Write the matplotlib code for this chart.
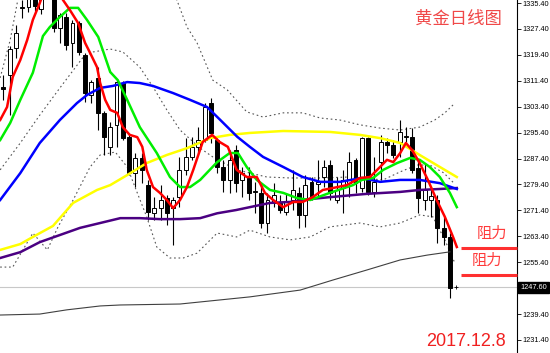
import matplotlib
matplotlib.use("Agg")
import matplotlib.pyplot as plt
import matplotlib.transforms as mtransforms

# ---------------- data ----------------
opens  = [1309.5,1313.2,1321.5,1334.0,1334.2,1340.0,1333.5,1346.0,1345.0,1327.7,
          1331.1,1323.1,1329.2,1319.4,1307.0,1312.3,1301.4,1290.9,1297.7,1310.7,
          1294.0,1282.9,1287.6,1279.2,1270.6,1272.1,1275.2,1272.1,1275.5,1283.8,
          1287.9,1290.9,1293.1,1304.5,1293.1,1284.8,1280.8,1290.0,1280.8,1281.4,
          1277.1,1276.8,1267.5,1273.7,1273.7,1270.9,1274.6,1276.8,1269.9,1280.2,
          1279.5,1281.7,1285.4,1274.6,1278.3,1279.8,1286.9,1278.3,1293.7,1277.1,
          1286.3,1292.5,1291.6,1292.5,1294.0,1294.0,1284.5,1274.6,1274.6,1274.6,
          1265.9,1263.2]
highs  = [1313.2,1322.1,1328.6,1336.3,1340.0,1342.0,1350.0,1357.0,1350.0,1332.3,
          1332.3,1330.2,1330.0,1320.0,1311.6,1315.6,1302.0,1298.7,1311.6,1311.3,
          1295.3,1289.1,1289.1,1280.8,1275.5,1279.2,1276.1,1275.5,1287.9,1293.7,
          1294.0,1297.1,1304.5,1306.1,1293.7,1286.9,1290.0,1291.6,1284.8,1284.8,
          1280.2,1279.8,1276.8,1279.8,1276.1,1276.8,1283.8,1278.6,1282.3,1281.7,
          1286.9,1286.9,1286.9,1281.7,1283.8,1289.4,1287.6,1294.0,1294.0,1287.9,
          1294.7,1293.7,1293.1,1299.3,1297.1,1296.8,1286.9,1286.0,1278.6,1276.1,
          1269.3,1264.4]
lows   = [1305.5,1300.8,1318.4,1330.8,1332.5,1333.0,1332.0,1338.0,1326.5,1323.1,
          1321.0,1315.6,1319.5,1304.8,1304.5,1296.2,1288.5,1288.5,1290.9,1293.1,
          1282.3,1278.6,1279.8,1268.4,1268.4,1268.4,1266.9,1260.7,1272.4,1282.3,
          1286.9,1289.1,1292.5,1292.2,1282.9,1277.1,1276.8,1277.1,1275.5,1274.6,
          1270.6,1265.9,1264.4,1272.4,1270.6,1269.9,1271.5,1265.9,1266.3,1274.6,
          1275.5,1278.6,1274.6,1273.7,1270.6,1275.5,1276.8,1277.1,1276.1,1275.5,
          1280.8,1289.1,1287.6,1287.9,1292.5,1282.9,1270.6,1271.5,1269.3,1261.3,
          1260.7,1244.4]
closes = [1309.0,1321.2,1326.1,1334.2,1338.0,1334.5,1345.0,1350.0,1327.7,1331.7,
          1322.4,1329.2,1320.3,1307.6,1311.0,1301.4,1294.0,1297.1,1311.0,1293.7,
          1282.9,1287.6,1283.8,1270.9,1272.1,1274.6,1270.6,1274.6,1283.8,1287.9,
          1290.9,1293.1,1303.3,1295.3,1284.8,1280.8,1286.9,1279.8,1282.9,1276.8,
          1277.4,1267.5,1274.6,1276.1,1271.5,1274.0,1277.7,1269.9,1279.2,1275.5,
          1280.2,1284.8,1276.8,1277.7,1280.8,1286.3,1279.8,1293.7,1277.1,1280.2,
          1292.5,1291.6,1288.5,1295.6,1294.2,1283.8,1275.2,1277.7,1275.8,1265.9,
          1263.2,1247.4]

# indicator lines: (bar index, price)
red_x   = [-0.5,0.6,1.5,2.7,3.8,4.7,5.8,6.8,8.2,9.5,10.6,11.9,13.0,13.8,14.9,15.4,16.2,17.0,
           18.1,19.0,20.1,21.3,22.1,22.8,23.8,24.9,26.0,27.0,28.1,29.2,30.2,31.7,33.2,34.4,
           35.7,37.1,38.7,40.3,41.6,42.9,44.5,46.1,47.6,49.2,50.8,52.4,54.6,56.7,58.3,59.9,
           61.0,62.0,63.1,64.0,65.0,66.2,67.5,68.9,70.2,71.5,72.1]
red_y   = [1299.3,1303.3,1312.6,1317.8,1324.0,1330.2,1335.4,1341.0,1341.0,1336.3,1333.2,1329.2,
           1323.1,1320.0,1315.6,1310.7,1305.5,1302.4,1301.5,1297.1,1294.7,1294.0,1291.0,1283.9,
           1278.6,1276.8,1274.6,1272.1,1274.6,1278.6,1283.9,1292.5,1294.7,1292.5,1291.0,1283.9,
           1281.7,1281.7,1276.8,1274.6,1272.4,1274.0,1274.0,1275.5,1277.7,1278.3,1279.2,1281.4,
           1281.7,1284.8,1287.0,1286.3,1289.1,1292.2,1290.0,1286.0,1280.8,1274.6,1269.4,1263.2,
           1260.1]
green_x = [-0.5,1.1,2.7,4.7,6.3,7.4,9.0,10.6,11.9,13.3,15.1,17.0,18.2,19.7,21.7,24.4,26.5,
           28.1,29.7,31.3,34.0,36.0,37.3,38.7,40.3,42.4,44.5,46.7,48.8,51.9,55.6,57.0,58.8,
           60.4,62.6,64.7,66.2,67.8,69.4,71.0,72.1]
green_y = [1293.1,1298.4,1305.5,1313.9,1325.2,1328.0,1331.1,1333.9,1333.9,1330.2,1324.9,1314.1,
           1311.6,1305.5,1297.1,1289.1,1281.7,1278.6,1278.6,1280.8,1286.3,1289.1,1289.1,1284.8,
           1280.8,1277.7,1276.8,1275.2,1274.6,1276.8,1279.2,1280.8,1281.4,1283.9,1286.0,1287.6,
           1287.0,1284.8,1281.7,1276.8,1272.4]
blue_x  = [-0.5,2.7,5.8,9.0,11.7,13.3,15.4,17.4,19.7,21.7,23.8,27.0,29.7,32.4,34.5,37.2,39.2,
           41.3,44.5,47.6,50.4,53.5,57.0,59.9,63.1,66.2,69.4,72.1]
blue_y  = [1274.6,1282.9,1292.2,1299.3,1304.5,1307.0,1309.2,1309.8,1311.0,1310.7,1309.8,1307.6,
           1305.5,1303.3,1299.3,1294.1,1291.0,1287.9,1284.8,1281.7,1280.2,1280.2,1281.4,1280.2,
           1280.8,1280.8,1279.8,1278.0]
yellow_x = [-0.5,2.7,4.7,7.9,11.1,14.9,17.0,19.7,22.8,26.0,29.2,32.9,36.0,39.2,44.5,52.0,56.7,
            59.9,63.1,66.2,69.4,72.1]
yellow_y = [1259.2,1261.0,1263.2,1266.6,1273.7,1277.7,1279.2,1282.3,1286.0,1288.5,1290.6,1293.7,
            1294.7,1295.3,1295.9,1295.6,1294.7,1293.7,1292.2,1288.5,1284.8,1281.7]
purple_x = [-0.5,2.7,5.8,9.0,12.2,15.4,18.6,21.7,24.9,28.1,31.3,34.0,37.0,39.2,42.4,45.6,48.8,
            52.0,57.8,63.1,66.2,69.4,72.1]
purple_y = [1256.7,1258.5,1261.6,1263.8,1266.0,1267.5,1269.0,1269.0,1268.7,1268.7,1269.0,1270.5,
            1271.5,1272.4,1273.7,1274.0,1274.9,1275.5,1276.5,1277.1,1277.7,1278.0,1278.3]
gray_x  = [-0.5,5.8,10.1,15.4,18.6,28.1,39.2,47.2,52.4,57.8,63.1,67.4,71.0]
gray_y  = [1239.1,1239.4,1240.7,1241.9,1242.2,1242.5,1244.7,1246.8,1249.9,1253.0,1256.1,1257.6,
           1258.6]
bb_up_x = [-0.5,1.1,2.3,4.0,24.0,27.6,29.2,30.8,33.3,35.6,38.7,41.3,44.5,47.6,50.4,53.5,56.7,
           59.9,63.1,66.2,68.6,70.2,71.8]
bb_up_y = [1312.3,1324.0,1336.3,1345.0,1345.0,1336.3,1328.0,1323.1,1311.6,1308.6,1301.8,1300.2,
           1301.5,1301.5,1299.9,1299.3,1297.8,1296.8,1296.2,1297.1,1299.3,1301.5,1304.5]
bb_mid_x = [-0.5,2.7,5.8,9.0,12.7,14.3,17.0,19.0,21.7,23.8,26.0,28.1,31.3,33.3,37.1,41.9,45.6,
            50.4,55.0,60.4,63.1,65.8,67.8,70.0,71.8]
bb_mid_y = [1283.9,1292.2,1300.8,1309.2,1318.7,1320.3,1321.2,1320.3,1315.6,1309.5,1302.4,1296.2,
            1290.6,1287.9,1283.9,1281.7,1281.4,1281.4,1281.7,1280.8,1283.3,1285.4,1285.4,1283.0,
            1279.5]
bb_lo_x = [-0.5,1.5,4.7,7.0,8.7,11.1,13.8,15.4,17.8,19.7,21.3,22.8,24.4,26.5,28.6,30.8,34.0,
           37.1,39.2,42.4,45.6,48.8,51.9,56.7,59.9,63.1,66.2,68.3,70.2,71.8]
bb_lo_y = [1253.9,1253.9,1264.4,1259.2,1266.3,1274.6,1284.8,1288.5,1289.4,1284.8,1276.8,1269.4,
           1260.1,1256.7,1256.7,1258.2,1264.4,1263.2,1265.3,1263.2,1262.3,1263.2,1266.3,1267.5,
           1266.3,1267.5,1270.0,1269.4,1262.3,1255.1]

resist_levels = [1259.8, 1251.4]
resist_label = "阻力"
title_text = "黄金日线图"
date_text = "2017.12.8"
current_price = 1247.60
tick_values = [1335.40,1327.40,1319.40,1311.40,1303.40,1295.40,1287.40,1279.40,
               1271.40,1263.40,1255.40,1239.40,1231.40]

# ---------------- drawing ----------------
plt.rcParams['font.family'] = ['Noto Sans CJK SC', 'DejaVu Sans']
W, H = 550, 353
fig = plt.figure(figsize=(W/100, H/100), dpi=100)
fig.patch.set_facecolor('white')
axw = 517 / W
ax = fig.add_axes([0, 0, axw, 1])
ax.set_facecolor('white')
ax.set_xlim(-0.525, 81.67)
ax.set_ylim(1227.38, 1336.33)

# current price line
ax.axhline(current_price, color='#c8c8c8', lw=0.8, zorder=1)

# bands
dot = dict(color='#555555', lw=0.8, linestyle=(0, (1.5, 2.5)), zorder=2)
ax.plot(bb_up_x, bb_up_y, **dot)
ax.plot(bb_mid_x, bb_mid_y, **dot)
ax.plot(bb_lo_x, bb_lo_y, **dot)

# candles
for i, (o, h, l, c) in enumerate(zip(opens, highs, lows, closes)):
    ax.plot([i, i], [l, h], color='black', lw=0.8, zorder=3, solid_capstyle='butt')
    bottom = min(o, c)
    height = max(abs(c - o), 0.3)
    face = 'white' if c >= o else 'black'
    ax.bar(i, height, bottom=bottom, width=0.62, color=face, edgecolor='black',
           linewidth=0.7, zorder=4)

# moving averages
ax.plot(gray_x, gray_y, color='#404040', lw=0.8, zorder=5)
ax.plot(purple_x, purple_y, color='#4B0082', lw=1.8, zorder=5)
ax.plot(yellow_x, yellow_y, color='#FFFF00', lw=1.8, zorder=5)
ax.plot(blue_x, blue_y, color='#0000FF', lw=1.8, zorder=6)
ax.plot(green_x, green_y, color='#00EE00', lw=1.8, zorder=7)
ax.plot(red_x, red_y, color='#FF0000', lw=1.8, zorder=8)

# small bid marker
ax.plot([72.0], [current_price], marker='+', color='black', ms=3, mew=0.6, zorder=9)

# resistance lines
for lv in resist_levels:
    ax.plot([72.8, 81.67], [lv, lv], color='#FF3030', lw=2.2, zorder=9,
            solid_capstyle='butt', clip_on=False)
ax.text(77.7, 1264.2, resist_label, color='#FF3B3B', fontsize=11, ha='center', va='center', zorder=10)
ax.text(76.9, 1256.0, resist_label, color='#FF3B3B', fontsize=11, ha='center', va='center', zorder=10)

# texts
fig.text(458/W, 1 - 19/H, title_text, color='#F04848', fontsize=12.5, ha='center', va='center')
fig.text(466/W, 1 - 341/H, date_text, color='#F02020', fontsize=13,
         ha='center', va='center', family=['Liberation Sans', 'DejaVu Sans'])

# axes styling
for s in ['top', 'left', 'bottom']:
    ax.spines[s].set_visible(False)
ax.spines['right'].set_color('black')
ax.spines['right'].set_linewidth(0.8)
ax.set_xticks([])
ax.yaxis.tick_right()
ax.set_yticks(tick_values)
ax.set_yticklabels([f"{v:.2f}" for v in tick_values])
ax.tick_params(axis='y', direction='out', length=3, width=0.6, pad=1.0,
               labelsize=5.3, colors='black')
for lab in ax.get_yticklabels():
    lab.set_family(['Liberation Sans', 'DejaVu Sans'])

trans = mtransforms.blended_transform_factory(ax.transAxes, ax.transData)
ax.text(1.0 + 3/517, current_price, f"{current_price:.2f}", transform=trans, color='white',
        fontsize=5.3, ha='left', va='center', family=['Liberation Sans', 'DejaVu Sans'],
        bbox=dict(boxstyle='square,pad=0.3', facecolor='black', edgecolor='black'), clip_on=False,
        zorder=11)

fig.savefig('out.png', dpi=100, facecolor='white')
